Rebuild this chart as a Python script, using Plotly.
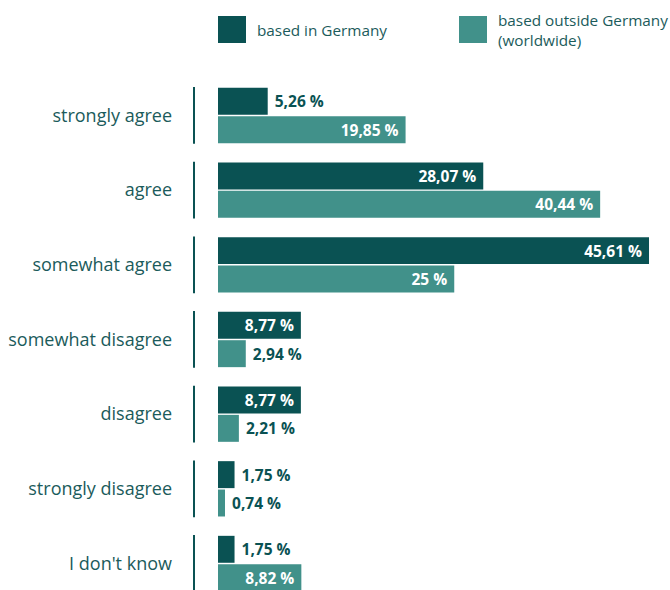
import plotly.graph_objects as go

categories = ["strongly agree", "agree", "somewhat agree", "somewhat disagree",
              "disagree", "strongly disagree", "I don't know"]
germany = [5.26, 28.07, 45.61, 8.77, 8.77, 1.75, 1.75]
worldwide = [19.85, 40.44, 25, 2.94, 2.21, 0.74, 8.82]
series_names = ["based in Germany", "based outside Germany<br>(worldwide)"]

DARK = "#0a5253"
LIGHT = "#41918a"
TEXT = "#1b5b5b"
FONT = "Open Sans"
NBSP = "\u00a0"


def fmt(v):
    s = f"{v:.2f}".rstrip("0").rstrip(".")
    return s.replace(".", ",") + " %"


def positions(vals):
    return ["inside" if v >= 8 else "outside" for v in vals]


def labels(vals):
    # a little extra breathing room between the label and the bar end
    return [fmt(v) + NBSP if p == "inside" else NBSP + fmt(v)
            for v, p in zip(vals, positions(vals))]


fig = go.Figure()
for vals, color in [(germany, DARK), (worldwide, LIGHT)]:
    fig.add_trace(go.Bar(
        y=categories, x=vals, orientation="h",
        marker=dict(color=color, line=dict(width=0)),
        text=labels(vals),
        textposition=positions(vals),
        insidetextanchor="end",
        constraintext="none",
        insidetextfont=dict(family=FONT, size=15.5, color="white", weight="bold"),
        outsidetextfont=dict(family=FONT, size=15.5, color=DARK, weight="bold"),
        textangle=0,
        cliponaxis=False,
        showlegend=False,
        hoverinfo="skip",
    ))

W, H = 670, 590
ML, MT = 218, 78
plot_w = W - ML
plot_h = H - MT

# separator lines between the category labels and the bars
for i in range(len(categories)):
    fig.add_shape(type="line", xref="paper", yref="y",
                  x0=(194 - ML) / plot_w, x1=(194 - ML) / plot_w,
                  y0=i - 0.38, y1=i + 0.38,
                  line=dict(color=DARK, width=2))

# legend: swatches and labels
legend_items = [(DARK, 218, series_names[0]), (LIGHT, 459, series_names[1])]
for color, x0, name in legend_items:
    fig.add_shape(type="rect", xref="paper", yref="paper",
                  x0=(x0 - ML) / plot_w, x1=(x0 + 28 - ML) / plot_w,
                  y0=1 + (MT - 16) / plot_h, y1=1 + (MT - 43) / plot_h,
                  fillcolor=color, line=dict(width=0))
    fig.add_annotation(xref="paper", yref="paper",
                       x=(x0 + 37 - ML) / plot_w, y=1 + (MT - 30) / plot_h,
                       xanchor="left", yanchor="middle", align="left",
                       text=name, showarrow=False,
                       font=dict(family=FONT, size=15.3, color=TEXT))

fig.update_layout(
    width=W, height=H,
    margin=dict(l=ML, r=0, t=MT, b=0, pad=0),
    paper_bgcolor="white", plot_bgcolor="white",
    barmode="group", bargap=0.24, bargroupgap=0.05,
    font=dict(family=FONT, color=TEXT),
    xaxis=dict(range=[0, plot_w / 9.45], visible=False, fixedrange=True),
    yaxis=dict(type="category", categoryorder="array", categoryarray=categories,
               range=[6.355, -0.502], showgrid=False, zeroline=False,
               showline=False, ticks="", ticklabelstandoff=45,
               tickfont=dict(family=FONT, size=18, color=TEXT)),
)

fig.write_html("out.html")
